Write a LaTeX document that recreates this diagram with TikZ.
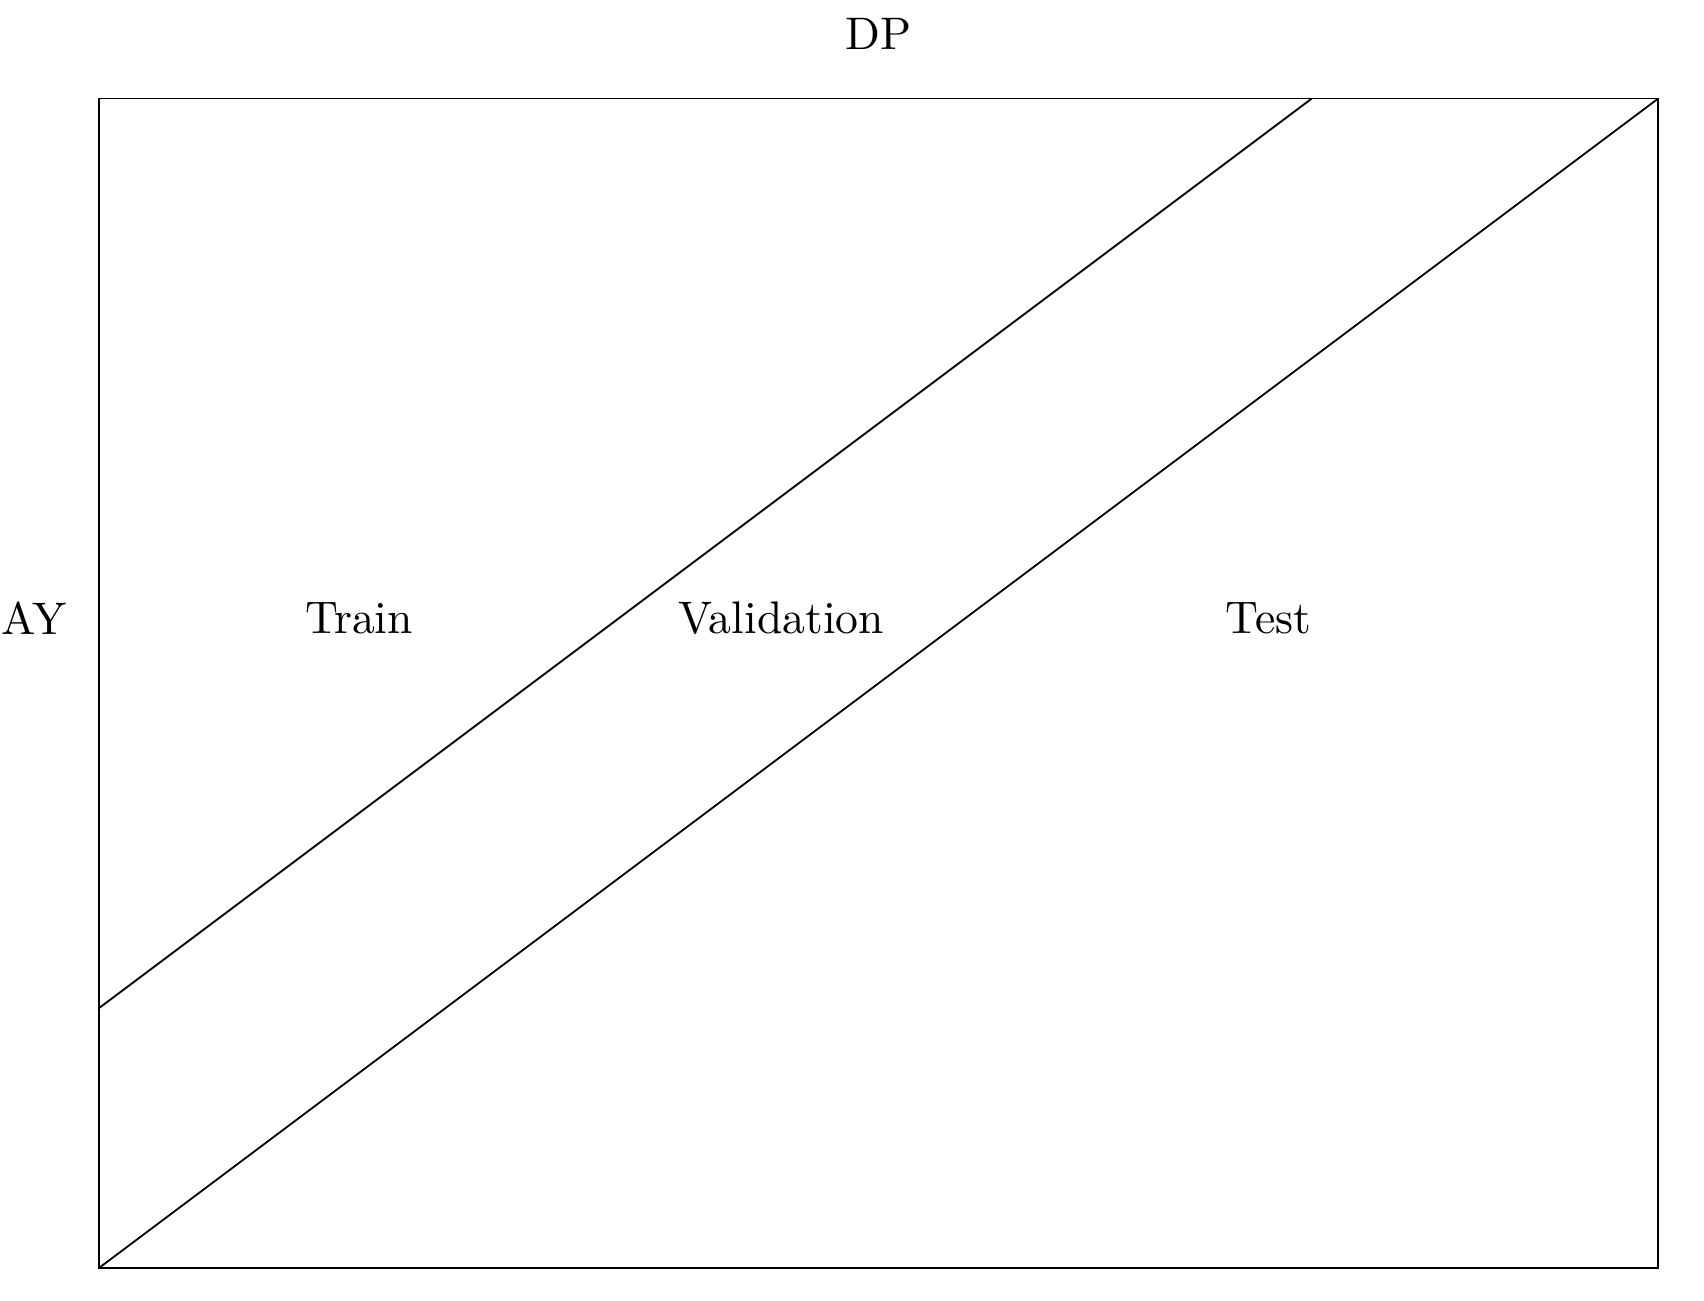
\documentclass[tikz,border=0pt]{standalone}
\begin{document}
\begin{tikzpicture}[
  lbl/.style={inner sep=0pt},
  frame/.style={draw=black, line width=0.4pt},
  split/.style={draw=black, line width=0.4pt}
]
\useasboundingbox (-0.764,-0.249) rectangle (12.353,9.759);
\coordinate (SW) at (0,0);
\coordinate (NE) at (12,9);
\coordinate (A) at (0,2);
\coordinate (B) at (28/3,9);
\draw[frame] (SW) rectangle (NE);
\draw[split] (A) -- (B);
\draw[split] (SW) -- (NE);
\node[lbl] (dp) at (6,9.5) {DP};
\node[lbl] (ay) at (-0.5,5) {AY};
\node[lbl] (train) at (2,5) {Train};
\node[lbl] (val) at (5.25,5) {Validation};
\node[lbl] (test) at (9,5) {Test};
\end{tikzpicture}
\end{document}
